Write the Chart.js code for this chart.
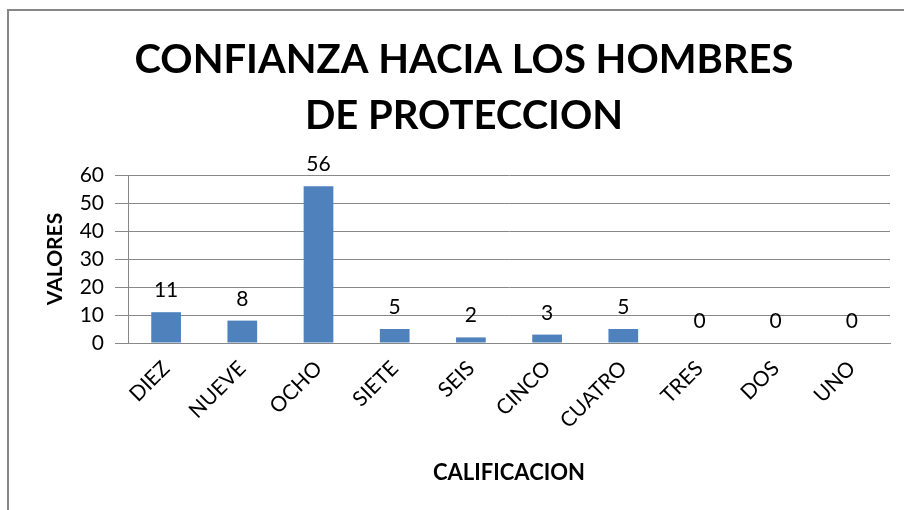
<!DOCTYPE html>
<html>
<head>
<meta charset="utf-8">
<script src="https://cdn.jsdelivr.net/npm/chart.js@4"></script>
<style>
  body { margin: 0; background: #fff; }
  #wrap { position: relative; width: 904px; height: 510px; }
  #frame { position: absolute; left: 7px; top: 9px; width: 920px; height: 520px;
           border-left: 2px solid #878787; border-top: 2px solid #878787; }
  canvas { position: absolute; left: 0; top: 0; }
</style>
</head>
<body>
<div id="wrap">
  <div id="frame"></div>
  <canvas id="chart" width="904" height="510"></canvas>
</div>
<script>
// chart values
var categories = ['DIEZ', 'NUEVE', 'OCHO', 'SIETE', 'SEIS', 'CINCO', 'CUATRO', 'TRES', 'DOS', 'UNO'];
var values = [11, 8, 56, 5, 2, 3, 5, 0, 0, 0];
var yMin = 0, yMax = 60, yStep = 10;
var titleLines = ['CONFIANZA HACIA LOS HOMBRES', 'DE PROTECCION'];

var FONT = 'Lato, "Open Sans", sans-serif';

// draw the value above each bar
var valueLabels = {
    id: 'valueLabels',
    afterDatasetsDraw: function(chart) {
        var ctx = chart.ctx;
        var meta = chart.getDatasetMeta(0);
        ctx.save();
        ctx.font = '21px ' + FONT;
        ctx.fillStyle = '#000';
        ctx.textAlign = 'center';
        ctx.textBaseline = 'alphabetic';
        meta.data.forEach(function(bar, i) {
            ctx.fillText(String(values[i]), bar.x, bar.y - 15);
        });
        ctx.restore();
    }
};

var ctx = document.getElementById('chart').getContext('2d');
var chart = new Chart(ctx, {
    type: 'bar',
    data: {
        labels: categories,
        datasets: [{
            data: values,
            backgroundColor: '#4F81BD',
            barPercentage: 0.39,
            categoryPercentage: 1
        }]
    },
    options: {
        responsive: false,
        animation: false,
        layout: { padding: { top: 20, left: 38, right: 14, bottom: 0 } },
        plugins: {
            legend: { display: false },
            tooltip: { enabled: false },
            title: {
                display: true,
                text: titleLines,
                color: '#000',
                font: { family: FONT, size: 40, weight: 'bold', lineHeight: 1.4 },
                padding: { top: 12, bottom: 31 }
            }
        },
        scales: {
            x: {
                grid: { display: false, drawTicks: false },
                border: { display: true, color: '#888', width: 1 },
                ticks: {
                    color: '#000',
                    font: { family: FONT, size: 21 },
                    maxRotation: 45,
                    minRotation: 45,
                    padding: 13
                },
                title: {
                    display: true,
                    text: 'CALIFICACION',
                    color: '#000',
                    font: { family: FONT, size: 22, weight: 'bold' },
                    padding: { top: 0, bottom: 24 }
                },
                afterFit: function(s) { s.height = 167; }
            },
            y: {
                min: yMin,
                max: yMax,
                grid: { color: '#888', lineWidth: 1, tickLength: 13 },
                border: { display: true, color: '#888', width: 1 },
                ticks: {
                    stepSize: yStep,
                    autoSkip: false,
                    color: '#000',
                    font: { family: FONT, size: 21 },
                    padding: 11
                },
                title: {
                    display: true,
                    text: 'VALORES',
                    color: '#000',
                    font: { family: FONT, size: 21, weight: 'bold' },
                    padding: { top: 5, bottom: 0 }
                },
                afterFit: function(s) { s.width = 90; }
            }
        }
    },
    plugins: [valueLabels]
});
</script>
</body>
</html>
